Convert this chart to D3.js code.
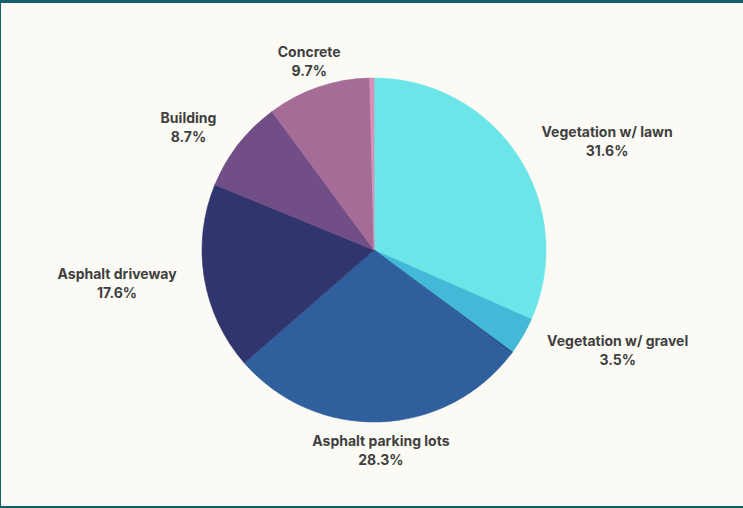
<!DOCTYPE html>
<html>
<head>
<meta charset="utf-8">
<script src="https://cdn.jsdelivr.net/npm/d3@7"></script>
<style>
  html, body { margin: 0; padding: 0; background: #fcfaf5; }
  #chart { width: 743px; height: 508px; }
</style>
</head>
<body>
<div id="chart"></div>
<script>
// slices in clockwise order from 12 o'clock
const categories = ["Vegetation w/ lawn", "Vegetation w/ gravel", "Other", "Asphalt parking lots",
                    "Asphalt driveway", "Building", "Concrete", "Other 2"];
const shares = [31.6, 3.5, 0.2, 28.3, 17.6, 8.7, 9.7, 0.4];
const showLabel = [true, true, false, true, true, true, true, false];
const colors = ["#6ce5e9", "#43b9d7", "#2a5290", "#2f5f9c", "#31356d", "#724e87", "#a46c97", "#d891b4"];

const W = 743, H = 508;
const cx = 374, cy = 250, radius = 172, labelR = 200;

const svg = d3.select("#chart").append("svg")
    .attr("width", W)
    .attr("height", H);

svg.append("rect").attr("width", W).attr("height", H).attr("fill", "#fcfaf5");

// frame lines
svg.append("rect").attr("x", 0).attr("y", 0).attr("width", W).attr("height", 3).attr("fill", "#125f68");
svg.append("rect").attr("x", 0).attr("y", 0).attr("width", 1).attr("height", H).attr("fill", "#125f68");
svg.append("rect").attr("x", 0).attr("y", H - 2).attr("width", W).attr("height", 2).attr("fill", "#125f68");

const data = categories.map((c, i) => ({ name: c, value: shares[i], color: colors[i], label: showLabel[i] }));

const pie = d3.pie().value(d => d.value).sort(null);
const arc = d3.arc().innerRadius(0).outerRadius(radius);
const labelArc = d3.arc().innerRadius(labelR).outerRadius(labelR);

const g = svg.append("g").attr("transform", "translate(" + cx + "," + cy + ")");

const arcs = pie(data);

// thin same-colour stroke hides the anti-alias seams between slices
g.selectAll(".slice")
    .data(arcs)
    .enter().append("path")
    .attr("class", "slice")
    .attr("d", arc)
    .attr("fill", d => d.data.color)
    .attr("stroke", d => d.data.color)
    .attr("stroke-width", 0.6)
    .attr("stroke-linejoin", "round");

// side labels hang off the label radius, top/bottom ones are centred on it
function anchorFor(d) {
    const s = Math.sin((d.startAngle + d.endAngle) / 2);
    if (s > 0.5) return "start";
    if (s < -0.5) return "end";
    return "middle";
}

const labels = g.selectAll(".label")
    .data(arcs.filter(d => d.data.label))
    .enter().append("text")
    .attr("class", "label")
    .attr("text-anchor", "middle")
    .style("font-family", "Inter, 'Open Sans', sans-serif")
    .style("font-weight", 700)
    .style("font-size", "14px")
    .attr("fill", "#3f3f3f");

labels.each(function (d) {
    const t = d3.select(this);
    const anchor = anchorFor(d);
    const name = t.append("tspan").attr("dy", 0).text(d.data.name);
    const w = name.node().getComputedTextLength();
    // both lines centred on the block's middle
    const mx = anchor === "start" ? w / 2 : anchor === "end" ? -w / 2 : 0;
    name.attr("x", mx);
    t.append("tspan").attr("x", mx).attr("dy", 19).text(d.data.value.toFixed(1) + "%");
    const p = labelArc.centroid(d);
    t.attr("transform", "translate(" + p[0] + "," + (p[1] - 4) + ")");
});
</script>
</body>
</html>
